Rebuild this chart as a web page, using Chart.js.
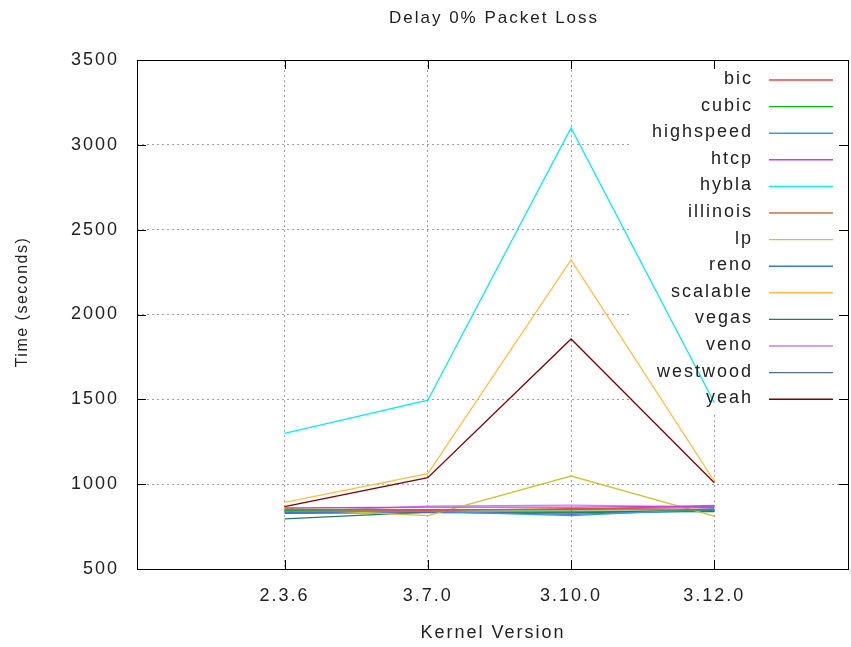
<!DOCTYPE html>
<html>
<head>
    <title>Delay 0% Packet Loss</title>
    <style>
        html, body { margin: 0; padding: 0; background: #fff; overflow: hidden; }
        .wrap { width: 851px; height: 647px; position: relative; }
    </style>
</head>
<body>
    <div class="wrap"><canvas id="delay-chart"></canvas></div>

    <script src="https://cdn.jsdelivr.net/npm/chart.js"></script>
    <script>
        // Kernel versions on the x axis
        const kernels = ["2.3.6", "3.7.0", "3.10.0", "3.12.0"];

        // Time (seconds) per congestion control algorithm
        const bic       = [852, 845, 855, 862];
        const cubic     = [845, 848, 848, 848];
        const highspeed = [840, 840, 815, 855];
        const htcp      = [860, 865, 865, 870];
        const hybla     = [1300, 1495, 3100, 1480];
        const illinois  = [853, 850, 850, 875];
        const lp        = [855, 815, 1048, 812];
        const reno      = [833, 838, 822, 845];
        const scalable  = [893, 1062, 2322, 1018];
        const vegas     = [795, 835, 836, 838];
        const veno      = [837, 870, 877, 866];
        const westwood  = [828, 832, 830, 850];
        const yeah      = [867, 1038, 1856, 1008];

        const names  = ["bic", "cubic", "highspeed", "htcp", "hybla", "illinois", "lp",
                        "reno", "scalable", "vegas", "veno", "westwood", "yeah"];
        const series = [bic, cubic, highspeed, htcp, hybla, illinois, lp,
                        reno, scalable, vegas, veno, westwood, yeah];
        const colors = ["#ff4040", "#00c000", "#3399ff", "#c040f0", "#00f0f0", "#c87040", "#c8c830",
                        "#4070f0", "#ffc040", "#208050", "#c080ff", "#507090", "#800000"];

        const chartTitle = "Delay 0% Packet Loss";
        const yTitle = "Time (seconds)";

        const FONT = "'Liberation Sans', Arial, sans-serif";
        const TEXT = "#222";

        // gnuplot-ish look: spaced text, cleared key area, inward ticks, full frame, key
        const gnuplotStyle = {
            id: "gnuplotStyle",
            beforeUpdate(chart) { chart.ctx.letterSpacing = "2px"; },
            beforeDraw(chart) { chart.ctx.letterSpacing = "2px"; },
            beforeDatasetsDraw(chart) {
                const { ctx, chartArea: a } = chart;
                ctx.save();
                ctx.fillStyle = "#fff";
                ctx.fillRect(632, a.top + 1, a.right - 632 - 1, 413 - a.top);
                ctx.restore();
            },
            afterDatasetsDraw(chart) {
                const { ctx, chartArea: a, scales } = chart;
                ctx.save();
                ctx.strokeStyle = "#000";
                ctx.lineWidth = 1;
                ctx.strokeRect(Math.round(a.left) + 0.5, Math.round(a.top) + 0.5,
                               Math.round(a.right - a.left) - 1, Math.round(a.bottom - a.top));
                ctx.beginPath();
                const tl = 9;
                for (let i = 1; i <= kernels.length; i++) {
                    const x = Math.round(scales.x.getPixelForValue(i)) + 0.5;
                    ctx.moveTo(x, a.bottom); ctx.lineTo(x, a.bottom - tl);
                    ctx.moveTo(x, a.top); ctx.lineTo(x, a.top + tl);
                }
                for (let v = 1000; v <= 3000; v += 500) {
                    const y = Math.round(scales.y.getPixelForValue(v)) + 0.5;
                    ctx.moveTo(a.left, y); ctx.lineTo(a.left + tl, y);
                    ctx.moveTo(a.right - 1, y); ctx.lineTo(a.right - 1 - tl, y);
                }
                ctx.stroke();

                // titles
                ctx.fillStyle = TEXT;
                ctx.textAlign = "center";
                ctx.textBaseline = "middle";
                ctx.font = "17px " + FONT;
                ctx.letterSpacing = "2px";
                ctx.fillText(chartTitle, (a.left + a.right) / 2 + 1, 18);
                ctx.save();
                ctx.translate(23, 302);
                ctx.rotate(-Math.PI / 2);
                ctx.font = "16px " + FONT;
                ctx.letterSpacing = "1.5px";
                ctx.fillText(yTitle, 0, 0);
                ctx.restore();

                // key
                ctx.font = "18px " + FONT;
                ctx.letterSpacing = "2px";
                ctx.textAlign = "right";
                ctx.lineWidth = 1.4;
                chart.data.datasets.forEach((ds, i) => {
                    const y = 79 + i * 26.6;
                    ctx.fillStyle = TEXT;
                    ctx.fillText(ds.label, 753, y);
                    ctx.strokeStyle = ds.borderColor;
                    ctx.beginPath();
                    ctx.moveTo(769, y + 1);
                    ctx.lineTo(833, y + 1);
                    ctx.stroke();
                });
                ctx.restore();
            }
        };

        const datasets = names.map((name, i) => ({
            label: name,
            data: series[i].map((v, j) => ({ x: j + 1, y: v })),
            borderColor: colors[i],
            backgroundColor: colors[i],
            borderWidth: 1.3,
            pointRadius: 0,
            tension: 0,
            fill: false
        }));

        const gridColor = (lo, hi) => (c) =>
            (c.tick && c.tick.value > lo && c.tick.value < hi) ? "#a0a0a0" : "rgba(0,0,0,0)";

        new Chart(document.getElementById("delay-chart"), {
            type: "line",
            data: { datasets },
            options: {
                responsive: true,
                maintainAspectRatio: false,
                animation: false,
                layout: { padding: { left: 0, right: 2, top: 60, bottom: 0 } },
                plugins: {
                    legend: { display: false },
                    tooltip: { enabled: false },
                    title: { display: false }
                },
                scales: {
                    x: {
                        type: "linear",
                        min: -0.03,
                        max: 4.94,
                        afterBuildTicks(scale) {
                            scale.ticks = kernels.map((_, i) => ({ value: i + 1 }));
                        },
                        afterFit(scale) {
                            scale.height = 78;
                            scale.paddingLeft = 0;
                            scale.paddingRight = 0;
                        },
                        ticks: {
                            autoSkip: false,
                            maxRotation: 0,
                            padding: 16,
                            color: TEXT,
                            font: { family: FONT, size: 18 },
                            callback: (v) => kernels[v - 1] || ""
                        },
                        grid: { color: gridColor(0.5, 4.5), drawTicks: false, lineWidth: 1 },
                        border: { display: false, dash: [2, 3] },
                        title: {
                            display: true,
                            text: "Kernel Version",
                            color: TEXT,
                            font: { family: FONT, size: 18 },
                            padding: { top: 0, bottom: 3 }
                        }
                    },
                    y: {
                        min: 500,
                        max: 3500,
                        afterFit(scale) { scale.width = 137; },
                        ticks: {
                            stepSize: 500,
                            padding: 18,
                            color: TEXT,
                            font: { family: FONT, size: 18 },
                            callback: (v) => String(v)
                        },
                        grid: { color: gridColor(500, 3500), drawTicks: false, lineWidth: 1 },
                        border: { display: false, dash: [2, 3] },
                        title: { display: false }
                    }
                }
            },
            plugins: [gnuplotStyle]
        });
    </script>
</body>
</html>
